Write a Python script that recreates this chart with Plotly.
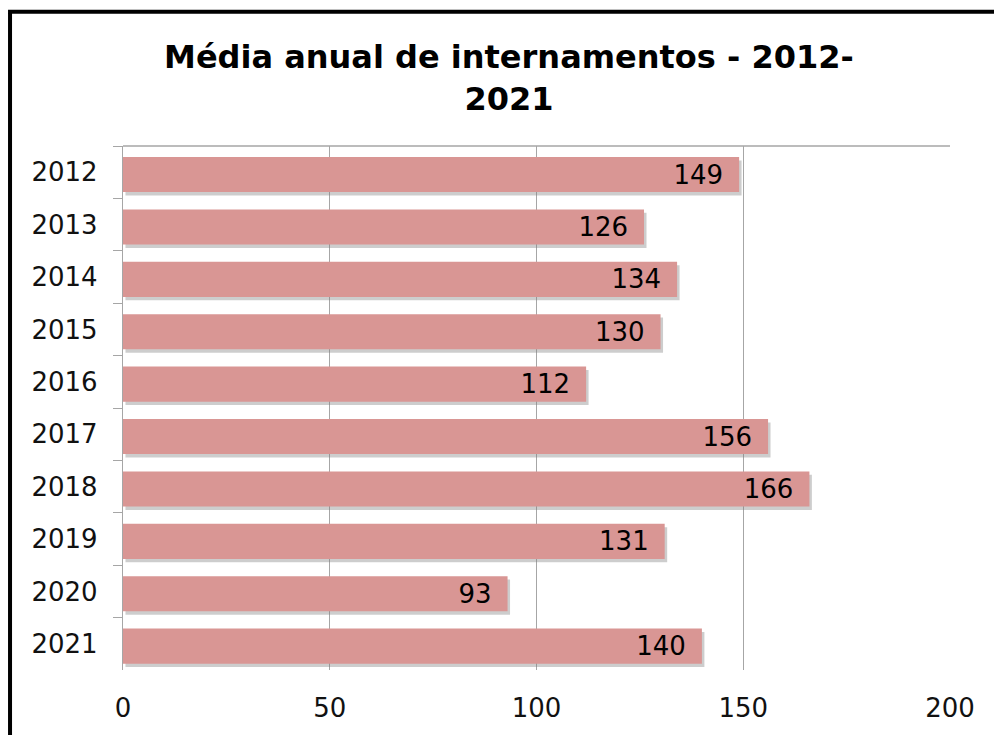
import plotly.graph_objects as go

# Average yearly admissions, 2012-2021
years = ["2012", "2013", "2014", "2015", "2016", "2017", "2018", "2019", "2020", "2021"]
admissions = [149, 126, 134, 130, 112, 156, 166, 131, 93, 140]
x_ticks = [0, 50, 100, 150, 200]

title_text = "Média anual de internamentos - 2012-<br>2021"
bar_color = "#D99694"
font_family = "DejaVu Sans, Verdana, sans-serif"

fig = go.Figure()

# soft drop shadow behind each bar
fig.add_trace(go.Bar(
    y=years, x=admissions, base=0.6, orientation="h",
    width=0.67, offset=-0.225,
    marker=dict(color="rgba(130,130,130,0.4)", line=dict(width=0)),
    hoverinfo="skip", showlegend=False,
))

fig.add_trace(go.Bar(
    y=years, x=admissions, orientation="h",
    width=0.67, offset=-0.29,
    marker=dict(color=bar_color, line=dict(width=0)),
    text=[f"{v}\u2002" for v in admissions], textposition="inside",
    insidetextanchor="end",
    textfont=dict(family=font_family, size=26, color="black"),
    showlegend=False,
))

fig.update_layout(
    width=994, height=735,
    margin=dict(l=123, r=44, t=146, b=65),
    paper_bgcolor="white", plot_bgcolor="white",
    barmode="overlay",
    uniformtext=dict(minsize=26, mode="show"),
    title=dict(
        text=title_text, x=0.512, xanchor="center", y=0.907, yanchor="middle",
        font=dict(family=font_family, size=32, color="black", weight="bold"),
    ),
    font=dict(family=font_family, size=27, color="#111"),
    xaxis=dict(
        range=[0, 200], tickvals=x_ticks, showgrid=True, gridcolor="#A6A6A6",
        gridwidth=1.3, zeroline=False, showline=False, ticks="",
        tickfont=dict(size=26), ticklabelstandoff=20,
    ),
    yaxis=dict(
        categoryorder="array", categoryarray=years, autorange="reversed",
        showline=True, linecolor="#A6A6A6", linewidth=1.3,
        ticks="outside", tickson="boundaries", ticklen=9, tickcolor="#A6A6A6",
        tickwidth=1.3, showgrid=False, tickfont=dict(size=26), ticklabelstandoff=19,
    ),
    shapes=[
        # top edge of the plotting area
        dict(type="line", xref="x domain", yref="y domain", x0=0, x1=1, y0=1, y1=1,
             line=dict(color="#A6A6A6", width=1.3)),
        # chart frame
        dict(type="rect", xref="paper", yref="paper",
             x0=-0.1366, x1=1.2, y0=-0.2, y1=1.256,
             line=dict(color="black", width=4), fillcolor="rgba(0,0,0,0)", layer="below"),
    ],
)

fig.write_html("out.html")
